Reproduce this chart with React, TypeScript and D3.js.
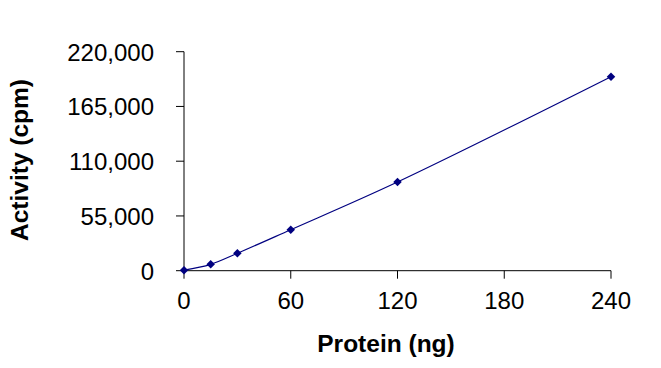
import React from 'react';
import * as d3 from 'd3';

const protein = [0, 15, 30, 60, 120, 240];
const activity = [500, 6400, 17500, 41200, 89100, 194900];
const xTicks = [0, 60, 120, 180, 240];
const yTicks = [0, 55000, 110000, 165000, 220000];

const W = 661;
const H = 368;
const NAVY = '#000080';
const FONT = 'Liberation Sans, Arial, sans-serif';

export default function App() {
  const x = d3.scaleLinear().domain([0, 240]).range([184, 611]);
  const y = d3.scaleLinear().domain([0, 220000]).range([270.7, 51.7]);
  const fmt = d3.format(',');

  const pts = protein.map((p, i) => [x(p), y(activity[i])] as [number, number]);
  const line = d3.line().curve(d3.curveCatmullRom.alpha(0.5))(pts) || '';
  // square marker turned 45deg
  const diamond = d3.symbol().type(d3.symbolSquare).size(36)() || '';

  return (
    <svg width={W} height={H} style={{ position: 'absolute', left: 0, top: 0, background: '#fff' }}>
      <g stroke="#000" strokeWidth={1} fill="none">
        <line x1={x(0)} x2={x(0)} y1={y(0)} y2={y(220000)} />
        <line x1={x(0)} x2={x(240)} y1={y(0)} y2={y(0)} />
        {yTicks.map(t => (
          <line key={'yt' + t} x1={x(0) - 8} x2={x(0)} y1={y(t)} y2={y(t)} />
        ))}
        {xTicks.map(t => (
          <line key={'xt' + t} x1={x(t)} x2={x(t)} y1={y(0)} y2={y(0) + 8} />
        ))}
      </g>
      <g fontFamily={FONT} fontSize={24} fill="#000">
        {yTicks.map(t => (
          <text key={'yl' + t} x={154} y={y(t) + 9} textAnchor="end">{fmt(t)}</text>
        ))}
        {xTicks.map(t => (
          <text key={'xl' + t} x={x(t)} y={309} textAnchor="middle">{t}</text>
        ))}
      </g>
      <text x={386} y={352} textAnchor="middle" fontFamily={FONT} fontSize={24.5} fontWeight="bold">Protein (ng)</text>
      <text transform="translate(28,160) rotate(-90)" textAnchor="middle" fontFamily={FONT} fontSize={24.5} fontWeight="bold">Activity (cpm)</text>
      <path d={line} fill="none" stroke={NAVY} strokeWidth={1.2} />
      {pts.map((p, i) => (
        <path key={'m' + i} d={diamond} transform={`translate(${p[0]},${p[1]}) rotate(45)`} fill={NAVY} />
      ))}
    </svg>
  );
}
